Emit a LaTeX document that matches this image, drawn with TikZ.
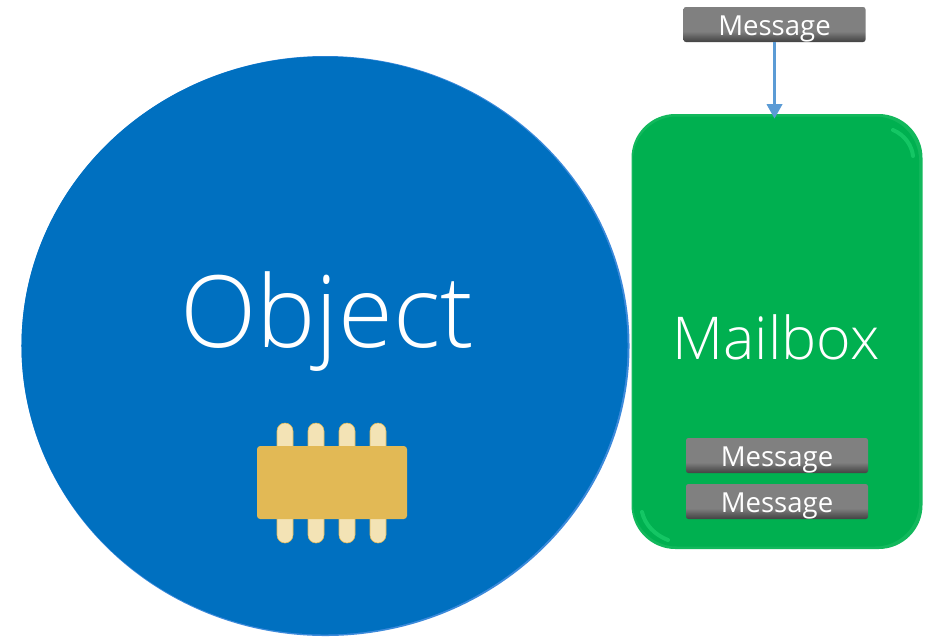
\documentclass[tikz,border=0pt]{standalone}
\usepackage{fontspec}
\setmainfont{Open Sans}
\newfontfamily\lightfont{Open Sans Light}
\usetikzlibrary{shapes.geometric,arrows.meta}
\definecolor{objblue}{HTML}{0070C0}
\definecolor{objedge}{HTML}{3C8ADB}
\definecolor{boxgreen}{HTML}{00B050}
\definecolor{boxedge}{HTML}{12B85C}
\definecolor{boxshine}{HTML}{14C664}
\definecolor{arrowblue}{HTML}{5B9BD5}
\definecolor{chipgold}{HTML}{E2B955}
\definecolor{pingold}{HTML}{F3E3B5}
\pgfdeclareverticalshading{msgshade}{100bp}{color(0bp)=(black!74); color(25bp)=(black!74); color(33bp)=(black!62); color(40bp)=(black!50); color(100bp)=(black!50)}
\begin{document}
\begin{tikzpicture}[
    x=0.25mm, y=-0.25mm,
    objnode/.style={ellipse, fill=objblue, minimum width=152mm, minimum height=145mm, inner sep=0pt},
    mailnode/.style={rectangle, fill=boxgreen, rounded corners=11mm, minimum width=72.75mm, minimum height=108.75mm, inner sep=0pt},
    msgnode/.style={rectangle, rounded corners=0.6mm, shading=msgshade, minimum width=45.5mm, minimum height=8.75mm, inner sep=0pt, text=white, text height=20pt, text depth=4.8pt, font=\fontsize{19.6}{20}\selectfont},
    pinnode/.style={rectangle, rounded corners=2mm, draw=chipgold, fill=pingold, minimum width=4mm, minimum height=9mm, inner sep=0pt},
    ]
    \useasboundingbox (0,0) rectangle (936,638);

    % bevel under the two big shapes
    \node [objnode, fill=objedge] (objb) at (325.5,346) {};
    \node [mailnode, fill=boxedge] (mailb) at (777,331.5) {};

    \node [objnode, minimum width=151.5mm, minimum height=144.5mm] (obj) at (324.5,345.5) {};
    \node [mailnode, minimum width=71.5mm, minimum height=107.5mm] (mail) at (776,331.5) {};

    % shine on two corners of the mailbox
    \draw [boxshine, line width=1mm, line cap=round] (893,130) .. controls (905,135) and (912,146) .. (913,156);
    \draw [boxshine, line width=1mm, line cap=round] (642,512) .. controls (645,525) and (655,535) .. (668,540);

    \node [text=white, font=\lightfont\fontsize{71}{71}\selectfont] (objtxt) at (327,322) {Object};
    \node [text=white, font=\lightfont\fontsize{42}{42}\selectfont] (mailtxt) at (776,337) {Mailbox};

    % chip
    \foreach \i/\px in {1/285,2/316,3/347,4/378} {
        \node [pinnode] (pt\i) at (\px,441) {};
        \node [pinnode] (pb\i) at (\px,525) {};
    }
    \node [rectangle, rounded corners=0.8mm, fill=chipgold, minimum width=37.5mm, minimum height=18.25mm, inner sep=0pt] (chip) at (332,482.5) {};

    \node [msgnode] (m1) at (774.5,24.5) {Message};
    \node [msgnode] (m2) at (777,455.5) {Message};
    \node [msgnode] (m3) at (777,501.5) {Message};

    \draw [arrowblue, line width=0.7mm, -{Triangle[length=3.6mm,width=3.8mm]}, shorten >=-0.6mm] (m1.south) -- (m1.south |- mail.north);
\end{tikzpicture}
\end{document}
